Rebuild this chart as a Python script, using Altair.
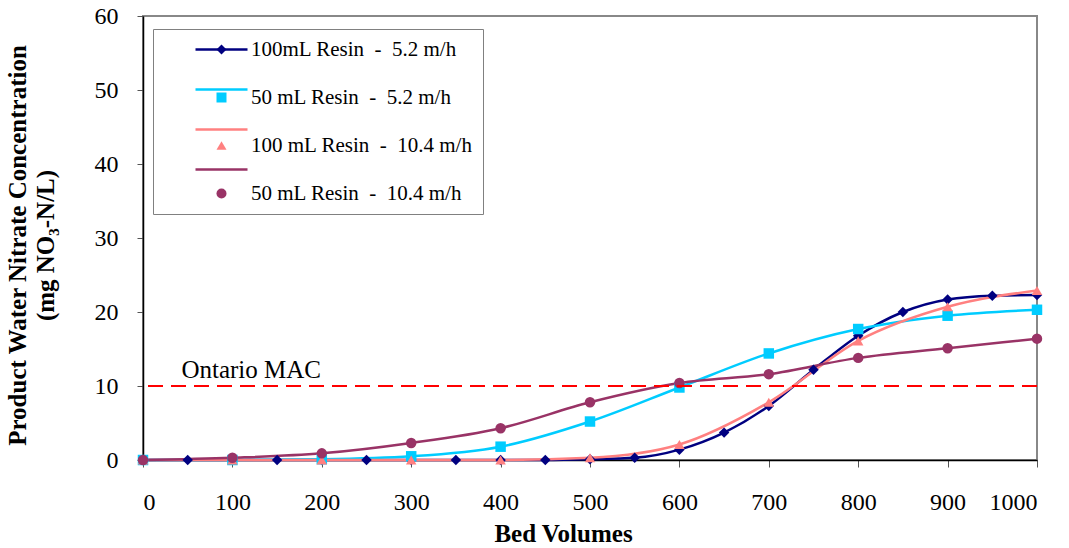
import altair as alt
import pandas as pd

# ---- data ----
series_names = [
    "100mL Resin\u00a0 -\u00a0 5.2 m/h",
    "50 mL Resin\u00a0 -\u00a0 5.2 m/h",
    "100 mL Resin\u00a0 -\u00a0 10.4 m/h",
    "50 mL Resin\u00a0 -\u00a0 10.4 m/h",
]
series_colors = ["#000080", "#00CCFF", "#FF8080", "#993366"]
point_shapes = ["diamond", "square", "triangle-up", "circle"]

bv_50step = [0, 50, 100, 150, 200, 250, 300, 350, 400, 450, 500,
             550, 600, 650, 700, 750, 800, 850, 900, 950, 1000]
bv_100step = [0, 100, 200, 300, 400, 500, 600, 700, 800, 900, 1000]

navy_100ml_52 = [0, 0, 0, 0, 0, 0, 0, 0, 0, 0, 0.1,
                 0.3, 1.4, 3.7, 7.3, 12.2, 16.8, 20.0, 21.7, 22.2, 22.3]
cyan_50ml_52 = [0, 0, 0.1, 0.5, 1.8, 5.2, 9.8, 14.4, 17.7, 19.5, 20.3]
pink_100ml_104 = [0, 0, 0, 0, 0, 0.3, 2.1, 7.8, 16.1, 20.7, 22.9]
maroon_50ml_104 = [0, 0.3, 0.9, 2.3, 4.3, 7.8, 10.4, 11.6, 13.8, 15.1, 16.4]

mac_value = [10]
mac_label = ["Ontario MAC"]
mac_label_bv = [43]

x_ticks = list(range(0, 1001, 100))
y_ticks = list(range(0, 61, 10))

# ---- build long table ----
ZW = "\u200b"  # invisible suffix so the line legend stays separate from the marker legend
rows = []
for name, xs, ys in [(series_names[0], bv_50step, navy_100ml_52),
                     (series_names[1], bv_100step, cyan_50ml_52),
                     (series_names[2], bv_100step, pink_100ml_104),
                     (series_names[3], bv_100step, maroon_50ml_104)]:
    for bv, v in zip(xs, ys):
        rows.append({"series": name, "series_line": name + ZW, "bv": bv, "value": v})
df = pd.DataFrame(rows)
line_names = [n + ZW for n in series_names]

mac_df = pd.DataFrame({"bv": mac_label_bv, "value": mac_value, "label": mac_label})
mac_line_df = pd.DataFrame({"value": mac_value})

FONT = "Liberation Serif"

x_enc = alt.X("bv:Q", scale=alt.Scale(domain=[0, 1000], nice=False),
              axis=alt.Axis(values=x_ticks, title="Bed Volumes", format="d",
                            labelBaseline="alphabetic", labelPadding=42, tickSize=7,
                            titleBaseline="alphabetic",
                            titleX=420, titleY=81, titleAnchor="start", titleAlign="center"))
y_enc = alt.Y("value:Q", scale=alt.Scale(domain=[0, 60], nice=False),
              axis=alt.Axis(values=y_ticks, format="d",
                            title=["Product Water Nitrate Concentration", "(mg NO\u2083-N/L)"],
                            labelPadding=19, tickSize=6,
                            titleLineHeight=28,
                            titleX=-113, titleY=229, titleAnchor="start", titleAlign="center"))

# legend with markers and labels (boxed)
leg_markers = alt.Legend(
    title=None, orient="none", legendX=10, legendY=13,
    padding=10, strokeColor="#808080",
    labelFont=FONT, labelFontSize=21, labelColor="black",
    symbolSize=100, symbolStrokeWidth=0, symbolOpacity=1,
    symbolOffset=48, labelOffset=19, rowPadding=26, labelLimit=400,
)
# legend with only the line segments, drawn at the same place (no label text)
leg_lines = alt.Legend(
    title=None, orient="none", legendX=10, legendY=6,
    padding=0, symbolType="stroke",
    labelFontSize=8, labelOpacity=0, labelLimit=400, labelExpr="''",
    symbolSize=2704, symbolStrokeWidth=2.5, symbolOpacity=1,
    symbolOffset=41, labelOffset=2, rowPadding=7,
)

lines = alt.Chart(df).mark_line(interpolate="monotone", strokeWidth=2.5).encode(
    x=x_enc, y=y_enc,
    stroke=alt.Stroke("series_line:N",
                      scale=alt.Scale(domain=line_names, range=series_colors),
                      legend=leg_lines),
    order="bv:Q",
)

points = alt.Chart(df).mark_point(filled=True, opacity=1, size=110).encode(
    x="bv:Q", y="value:Q",
    color=alt.Color("series:N", scale=alt.Scale(domain=series_names, range=series_colors),
                    legend=leg_markers),
    shape=alt.Shape("series:N", scale=alt.Scale(domain=series_names, range=point_shapes),
                    legend=leg_markers),
)

mac_rule = alt.Chart(mac_line_df).mark_rule(
    color="#FF0000", strokeWidth=2.2, strokeDash=[15, 8]
).encode(y=alt.Y("value:Q"))

mac_text = alt.Chart(mac_df).mark_text(
    align="left", baseline="alphabetic", dy=-8, font=FONT, fontSize=25, color="black"
).encode(x="bv:Q", y="value:Q", text="label:N")

chart = alt.layer(lines, points, mac_rule, mac_text).properties(
    width=894, height=444,
    autosize=alt.AutoSizeParams(type="none"),
    padding={"left": 143, "top": 16, "right": 32, "bottom": 88},
).configure(
    background="white",
    view=alt.ViewConfig(stroke="#888888", strokeWidth=2),
    axis=alt.AxisConfig(
        grid=False,
        labelFont=FONT, labelFontSize=24, labelColor="black",
        tickColor="#555555", domainColor="black", domainWidth=1.5,
        titleFont=FONT, titleFontSize=25, titleFontWeight="bold", titleColor="black",
    ),
)

chart.save("out.html", embed_options={"renderer": "svg", "actions": False})
